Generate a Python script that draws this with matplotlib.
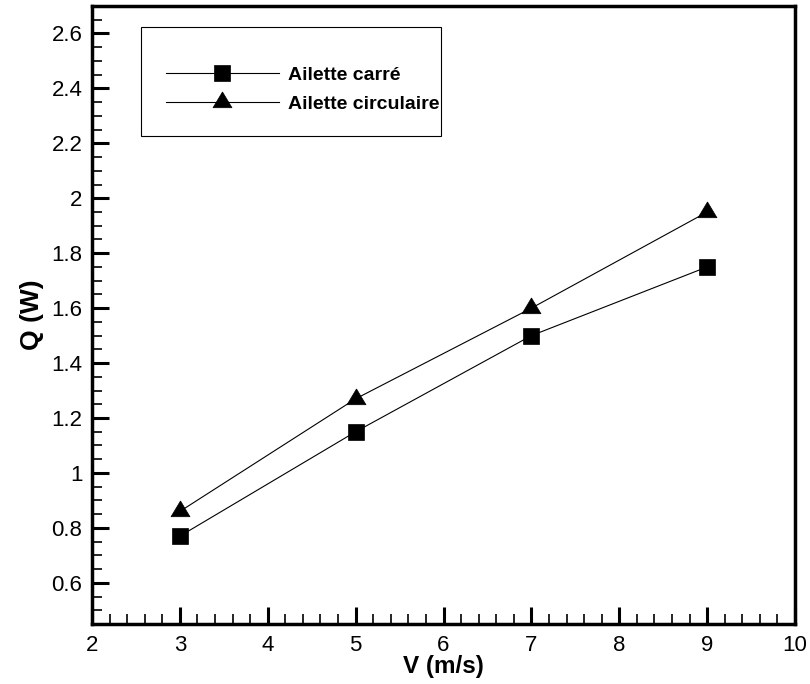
import matplotlib
matplotlib.use("Agg")
import matplotlib.pyplot as plt
from matplotlib.patches import Rectangle
from matplotlib.ticker import MultipleLocator

# Heat flux vs air velocity for the two fin shapes
vitesse = [3, 5, 7, 9]
q_carre = [0.77, 1.15, 1.50, 1.75]
q_circulaire = [0.86, 1.27, 1.60, 1.95]

labels = ["Ailette carré", "Ailette circulaire"]

plt.rcParams['font.family'] = ['Liberation Sans', 'DejaVu Sans']

# triangle centred on its centroid, a bit flatter than matplotlib's '^'
tri = [(0, 10.7), (-9.6, -5.3), (9.6, -5.3), (0, 10.7)]

fig = plt.figure(figsize=(8.1, 6.84), dpi=100)
ax = fig.add_axes([0.1136, 0.0877, 0.8679, 0.9035])

ax.plot(vitesse, q_carre, color='black', lw=0.8, marker='s', ms=11.8,
        markerfacecolor='black', markeredgecolor='black', markeredgewidth=0.5,
        label=labels[0])
ax.plot(vitesse, q_circulaire, color='black', lw=0.8, marker=tri, ms=15.2,
        markerfacecolor='black', markeredgecolor='black', markeredgewidth=0.5,
        label=labels[1])

ax.set_xlim(2, 10)
ax.set_ylim(0.45, 2.7)
ax.xaxis.set_major_locator(MultipleLocator(1))
ax.xaxis.set_minor_locator(MultipleLocator(0.2))
ax.yaxis.set_major_locator(MultipleLocator(0.2))
ax.yaxis.set_minor_locator(MultipleLocator(0.05))
ax.yaxis.set_major_formatter(plt.FuncFormatter(lambda v, p: f"{v:g}"))

ax.tick_params(which='both', direction='in', top=False, right=False,
               labelsize=16)
ax.tick_params(axis='x', pad=8)
ax.tick_params(axis='y', pad=7)
ax.tick_params(which='major', length=12, width=2.2)
ax.tick_params(which='minor', length=7, width=1.2)
for s in ax.spines.values():
    s.set_linewidth(2.5)

ax.set_xlabel("V (m/s)", fontsize=17.5, fontweight='bold', labelpad=-1)
ax.set_ylabel("Q (W)", fontsize=19, fontweight='bold', labelpad=5)

# legend frame drawn separately so its size can be set freely
ax.add_patch(Rectangle((0.0697, 0.790), 0.4267, 0.176, transform=ax.transAxes,
                       fill=False, edgecolor='black', lw=0.8, zorder=5))
leg = ax.legend(loc='center left', bbox_to_anchor=(0.105, 0.865),
                frameon=False, borderaxespad=0, borderpad=0,
                handlelength=5.8, handletextpad=0.46, labelspacing=0.56,
                prop={'size': 14, 'weight': 'bold'})

fig.savefig("out.png", dpi=100)
